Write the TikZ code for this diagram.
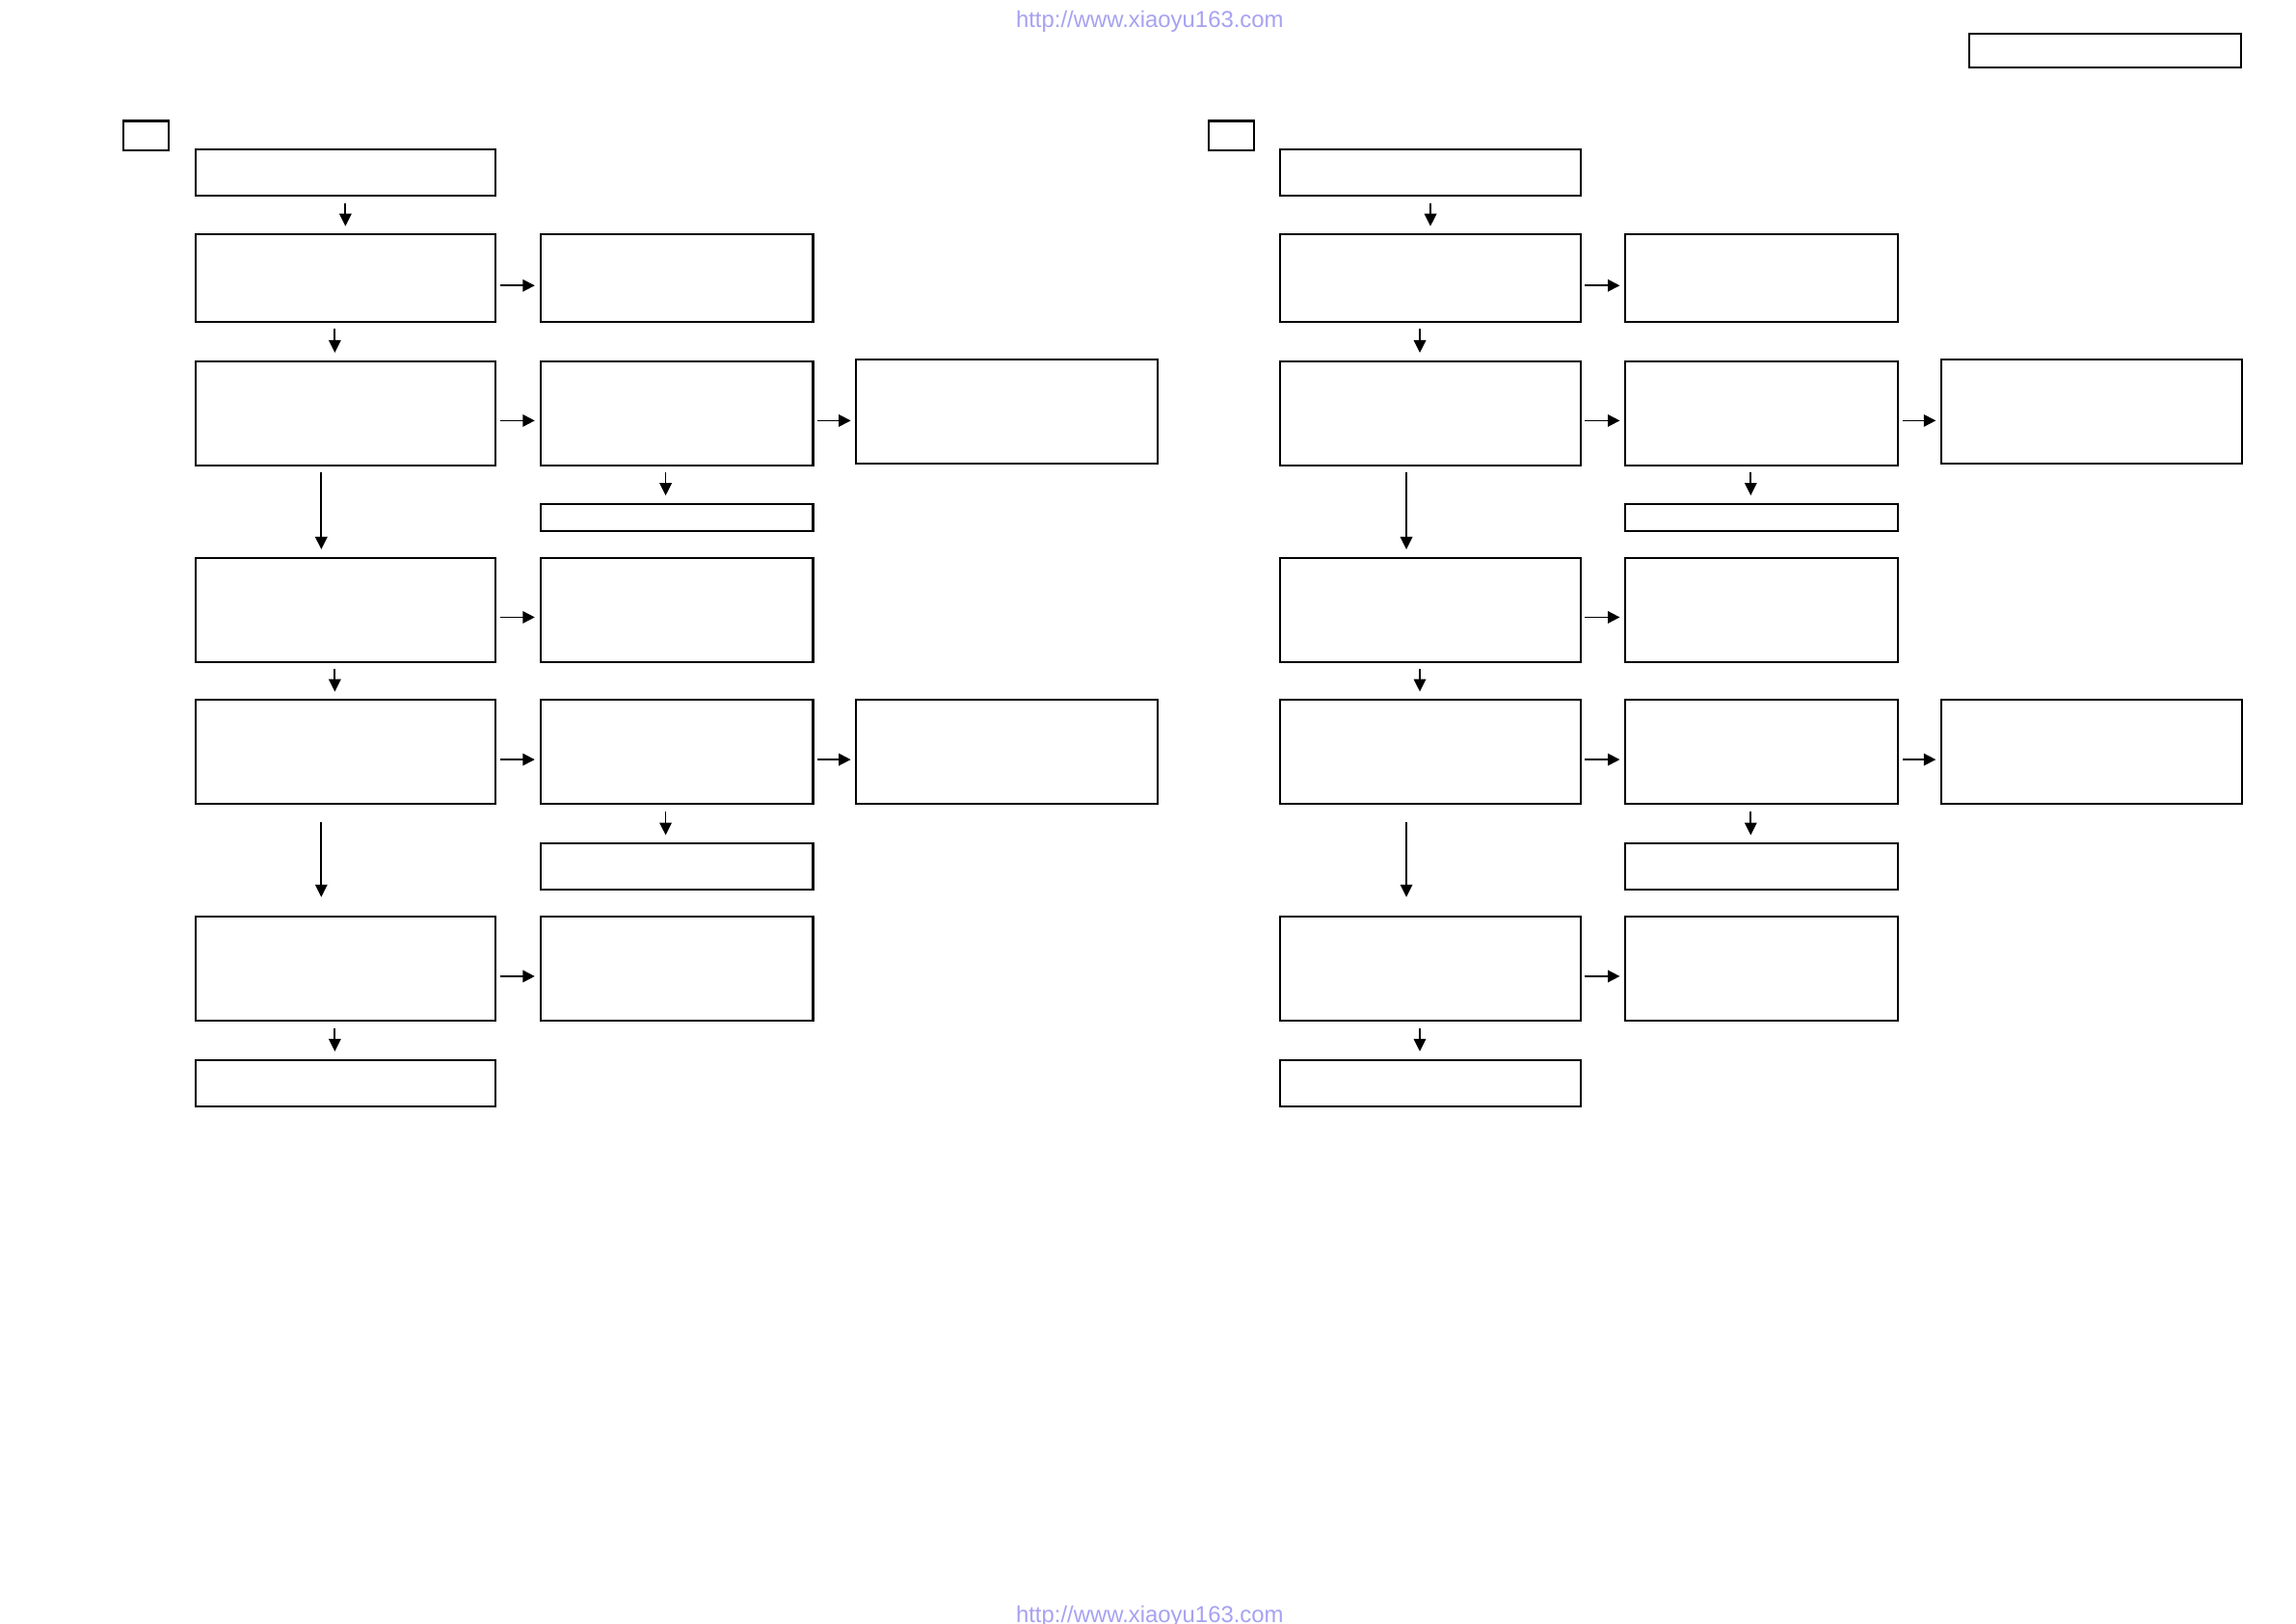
\documentclass[tikz,border=0pt]{standalone}
\usepackage{fontspec}
\setmainfont{Liberation Sans}
\usepackage{tikz}
\usetikzlibrary{arrows.meta,positioning,calc}
\definecolor{ink}{HTML}{000000}
\definecolor{linkc}{HTML}{A6A2F0}
\tikzset{
  box/.style={draw=ink, line width=0.6pt, anchor=north west, inner sep=0pt},
  lcol/.style={minimum width=31.14mm},
  mcol/.style={minimum width=28.29mm},
  rcol/.style={minimum width=31.23mm},
  tall/.style={minimum height=10.8mm},
  mid/.style={minimum height=9.02mm},
  short/.style={minimum height=4.8mm},
  thin/.style={minimum height=2.8mm},
  vdn/.style={-{Triangle[length=1.3mm,width=1.25mm]}, line width=0.5pt, draw=ink,
              shorten <=0.67mm, shorten >=0.76mm},
  hrt/.style={-{Triangle[length=1.25mm,width=1.25mm]}, line width=0.5pt, draw=ink,
              shorten <=0.35mm, shorten >=0.47mm},
  url/.style={text=linkc, font=\fontsize{6.8}{8}\selectfont, anchor=base, inner sep=0pt}
}
\begin{document}
\begin{tikzpicture}[x=0.15191mm,y=-0.15191mm]
  \useasboundingbox (0,0) rectangle (1568,1109);
  \node[url] (urltop) at (785.2,18.8) {http://www.xiaoyu163.com};
  \node[url] (urlbot) at (785.2,1108.3) {http://www.xiaoyu163.com};
  \node[box,minimum width=28.19mm,minimum height=3.49mm] (tag) at (1344.2,22.6) {};
  \foreach \p/\dx in {a/0,b/741} {
    \node[box,minimum width=4.71mm,minimum height=3.02mm] (\p-sq) at (83.6+\dx,81.9) {};
    \node[box,lcol,short] (\p-top) at (132.7+\dx,101.6) {};
    \node[box,lcol,mid] (\p-l1) at (132.7+\dx,159.5) {};
    \node[box,mcol,mid] (\p-m1) at (368.3+\dx,159.5) {};
    \draw[hrt] ([yshift=-0.78mm]\p-l1.east) -- ([yshift=-0.78mm]\p-m1.west);
    \foreach \r/\y in {2/245.9,3/380.2,4/477.4,5/625.4} {
      \node[box,lcol,tall] (\p-l\r) at (132.7+\dx,\y) {};
      \node[box,mcol,tall] (\p-m\r) at (368.3+\dx,\y) {};
      \draw[hrt] ([yshift=-0.78mm]\p-l\r.east) -- ([yshift=-0.78mm]\p-m\r.west);
    }
    \foreach \r/\y in {2/245.1,4/477.4} {
      \node[box,rcol,tall] (\p-r\r) at (584.1+\dx,\y) {};
      \draw[hrt] ([yshift=-0.78mm]\p-m\r.east) -- ([yshift=-0.78mm]\p-m\r.east -| \p-r\r.west);
    }
    \node[box,mcol,thin] (\p-s2) at (368.3+\dx,343.4) {};
    \node[box,mcol,short] (\p-s4) at (368.3+\dx,575.4) {};
    \node[box,lcol,short] (\p-l6) at (132.7+\dx,723.1) {};
    \draw[vdn] (\p-top) -- (\p-l1);
    \foreach \a/\b in {l1/l2,l3/l4,l5/l6}
      \draw[vdn] ([xshift=-1.1mm]\p-\a.south) -- ([xshift=-1.1mm]\p-\b.north);
    \draw[vdn] ([xshift=-2.5mm]\p-l2.south) -- ([xshift=-2.5mm]\p-l3.north);
    \draw[vdn,shorten <=1.75mm,shorten >=1.93mm] ([xshift=-2.5mm]\p-l4.south) -- ([xshift=-2.5mm]\p-l5.north);
    \foreach \a/\b in {m2/s2,m4/s4}
      \draw[vdn] ([xshift=-1.14mm]\p-\a.south) -- ([xshift=-1.14mm]\p-\b.north);
  }
\end{tikzpicture}
\end{document}
